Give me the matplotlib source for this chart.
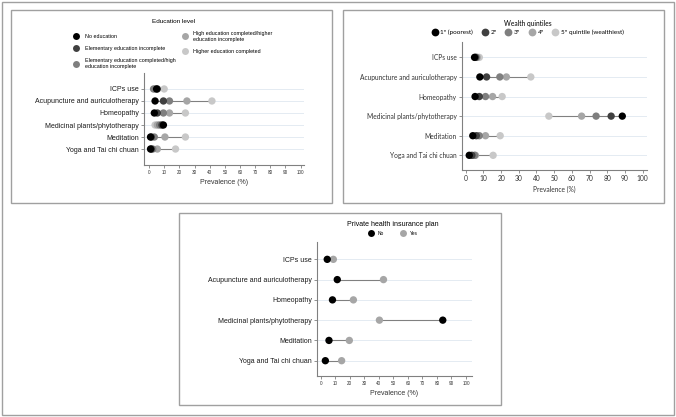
import matplotlib
matplotlib.use("Agg")
import matplotlib.pyplot as plt
from matplotlib.lines import Line2D
from matplotlib.patches import Rectangle

W, H = 676, 417

categories = ["ICPs use", "Acupuncture and auriculotherapy", "Homeopathy",
              "Medicinal plants/phytotherapy", "Meditation", "Yoga and Tai chi chuan"]

# education level
edu_labels = ["No education", "Elementary education incomplete",
              "Elementary education completed/high\neducation incomplete",
              "High education completed/higher\neducation incomplete",
              "Higher education completed"]
edu_none = [5, 4, 3.5, 9.5, 1, 1]
edu_elem_inc = [5.5, 9.5, 5.5, 8.5, 1.5, 1.5]
edu_elem_comp = [3, 13.5, 9.5, 7, 3.5, 2.5]
edu_high = [4, 25, 13.5, 5.5, 10.5, 5.5]
edu_higher = [10, 41.5, 24, 4, 24, 17.5]

# wealth quintiles
wealth_labels = ["1º (poorest)", "2º", "3º", "4º", "5º quintile (wealthiest)"]
q1 = [5, 8, 5.3, 88.5, 4, 2]
q2 = [5.5, 11.8, 7.7, 82.2, 6, 3.5]
q3 = [6, 19.3, 11.2, 73.7, 7.7, 5]
q4 = [6.5, 23, 15.2, 65.5, 11.2, 5.5]
q5 = [7.7, 36.8, 20.6, 47, 19.5, 15.5]

# private health insurance
ins_labels = ["No", "Yes"]
ins_no = [4.5, 11.4, 8.1, 84, 5.7, 3.2]
ins_yes = [8.7, 43.2, 22.5, 40.4, 19.7, 14.4]

GRAYS5 = ["#000000", "#404040", "#7f7f7f", "#a6a6a6", "#c8c8c8"]
GRAYS2 = ["#000000", "#a6a6a6"]


def px_box(x0, y0, x1, y1):
    return [x0 / W, 1 - y1 / H, (x1 - x0) / W, (y1 - y0) / H]


def dumbbell(ax, series, colors, xlim, ylim, font, lab_size, tick_size, xl_size, lab_color="#1a1a1a"):
    y = list(range(len(categories)))
    for i in y:
        vals = [s[i] for s in series]
        ax.plot([min(vals), max(vals)], [i, i], color="#808080", lw=0.8, zorder=2)
    for s, c in reversed(list(zip(series, colors))):
        ax.scatter(s, y, s=28, color=c, edgecolors="none", zorder=3)
    ax.set_xlim(*xlim)
    ax.set_ylim(*ylim)
    ax.set_yticks(y)
    ax.set_yticklabels(categories, fontsize=lab_size, family=font, color=lab_color)
    ax.set_xticks(range(0, 101, 10))
    ax.set_xticklabels([str(v) for v in range(0, 101, 10)], fontsize=tick_size, family=font, color="#333333")
    ax.set_xlabel("Prevalence (%)", fontsize=xl_size, family=font, color="#333333", labelpad=3)
    ax.yaxis.grid(True, color="#dfe8f0", lw=0.6)
    ax.set_axisbelow(True)
    for sp in ["top", "right"]:
        ax.spines[sp].set_visible(False)
    for sp in ["left", "bottom"]:
        ax.spines[sp].set_color("#808080")
        ax.spines[sp].set_linewidth(0.8)
    ax.tick_params(length=2, width=0.6, color="#808080", pad=1.5)


fig = plt.figure(figsize=(W / 100, H / 100), dpi=100)

# frames
frame = dict(fill=False, edgecolor="#a0a0a0", lw=1.0, transform=fig.transFigure)
fig.add_artist(Rectangle((1.5 / W, 1 - 415 / H), 672.5 / W, 413.5 / H, **frame))
for x0, y0, x1, y1 in [(11, 10, 332, 203), (343, 10, 664, 203), (179, 213, 501, 405)]:
    b = px_box(x0, y0, x1, y1)
    fig.add_artist(Rectangle((b[0], b[1]), b[2], b[3], **frame))

# panel 1: education level
ax1 = fig.add_axes(px_box(144, 73, 304, 165))
dumbbell(ax1, [edu_none, edu_elem_inc, edu_elem_comp, edu_high, edu_higher], GRAYS5,
         (-3.3, 102.2), (6.33, -1.33), "Liberation Sans", 5, 3.3, 5)
h1 = [Line2D([], [], marker="o", ls="none", color=c, markersize=5, markeredgewidth=0) for c in GRAYS5]
leg1 = fig.legend(h1, edu_labels, ncol=2, title="Education level", loc="upper center",
                  bbox_to_anchor=(173 / W, 1 - 14 / H), frameon=False,
                  prop={"family": "Liberation Sans", "size": 3.9}, title_fontsize=4.6,
                  handlelength=1.0, handletextpad=1.1, columnspacing=1.2, labelspacing=1.3)
leg1.get_title().set_family("Liberation Sans")

# panel 2: wealth quintiles
ax2 = fig.add_axes(px_box(461.7, 41.7, 646.7, 170))
dumbbell(ax2, [q1, q2, q3, q4, q5], GRAYS5,
         (-2.26, 102.3), (5.75, -0.8), "Lato", 4.8, 4.8, 4.8, lab_color="#333333")
h2 = [Line2D([], [], marker="o", ls="none", color=c, markersize=5.6, markeredgewidth=0) for c in GRAYS5]
leg2 = fig.legend(h2, wealth_labels, ncol=5, title="Wealth quintiles", loc="upper center",
                  bbox_to_anchor=(528 / W, 1 - 14 / H), frameon=False,
                  prop={"family": "Lato", "size": 4.6}, title_fontsize=4.8,
                  handlelength=0.8, handletextpad=0.5, columnspacing=1.4)
leg2.get_title().set_family("Lato")

# panel 3: private health insurance
ax3 = fig.add_axes(px_box(316.7, 241.7, 471.7, 375.7))
dumbbell(ax3, [ins_no, ins_yes], GRAYS2,
         (-2.75, 103.9), (5.74, -0.87), "Liberation Sans", 5, 3.3, 5)
h3 = [Line2D([], [], marker="o", ls="none", color=c, markersize=5, markeredgewidth=0) for c in GRAYS2]
leg3 = fig.legend(h3, ins_labels, ncol=2, title="Private health insurance plan", loc="upper center",
                  bbox_to_anchor=(393 / W, 1 - 217 / H), frameon=False,
                  prop={"family": "Liberation Sans", "size": 3.5}, title_fontsize=5,
                  handlelength=1.0, handletextpad=1.0, columnspacing=3.3)
leg3.get_title().set_family("Liberation Sans")

fig.savefig("out.png", dpi=100)
